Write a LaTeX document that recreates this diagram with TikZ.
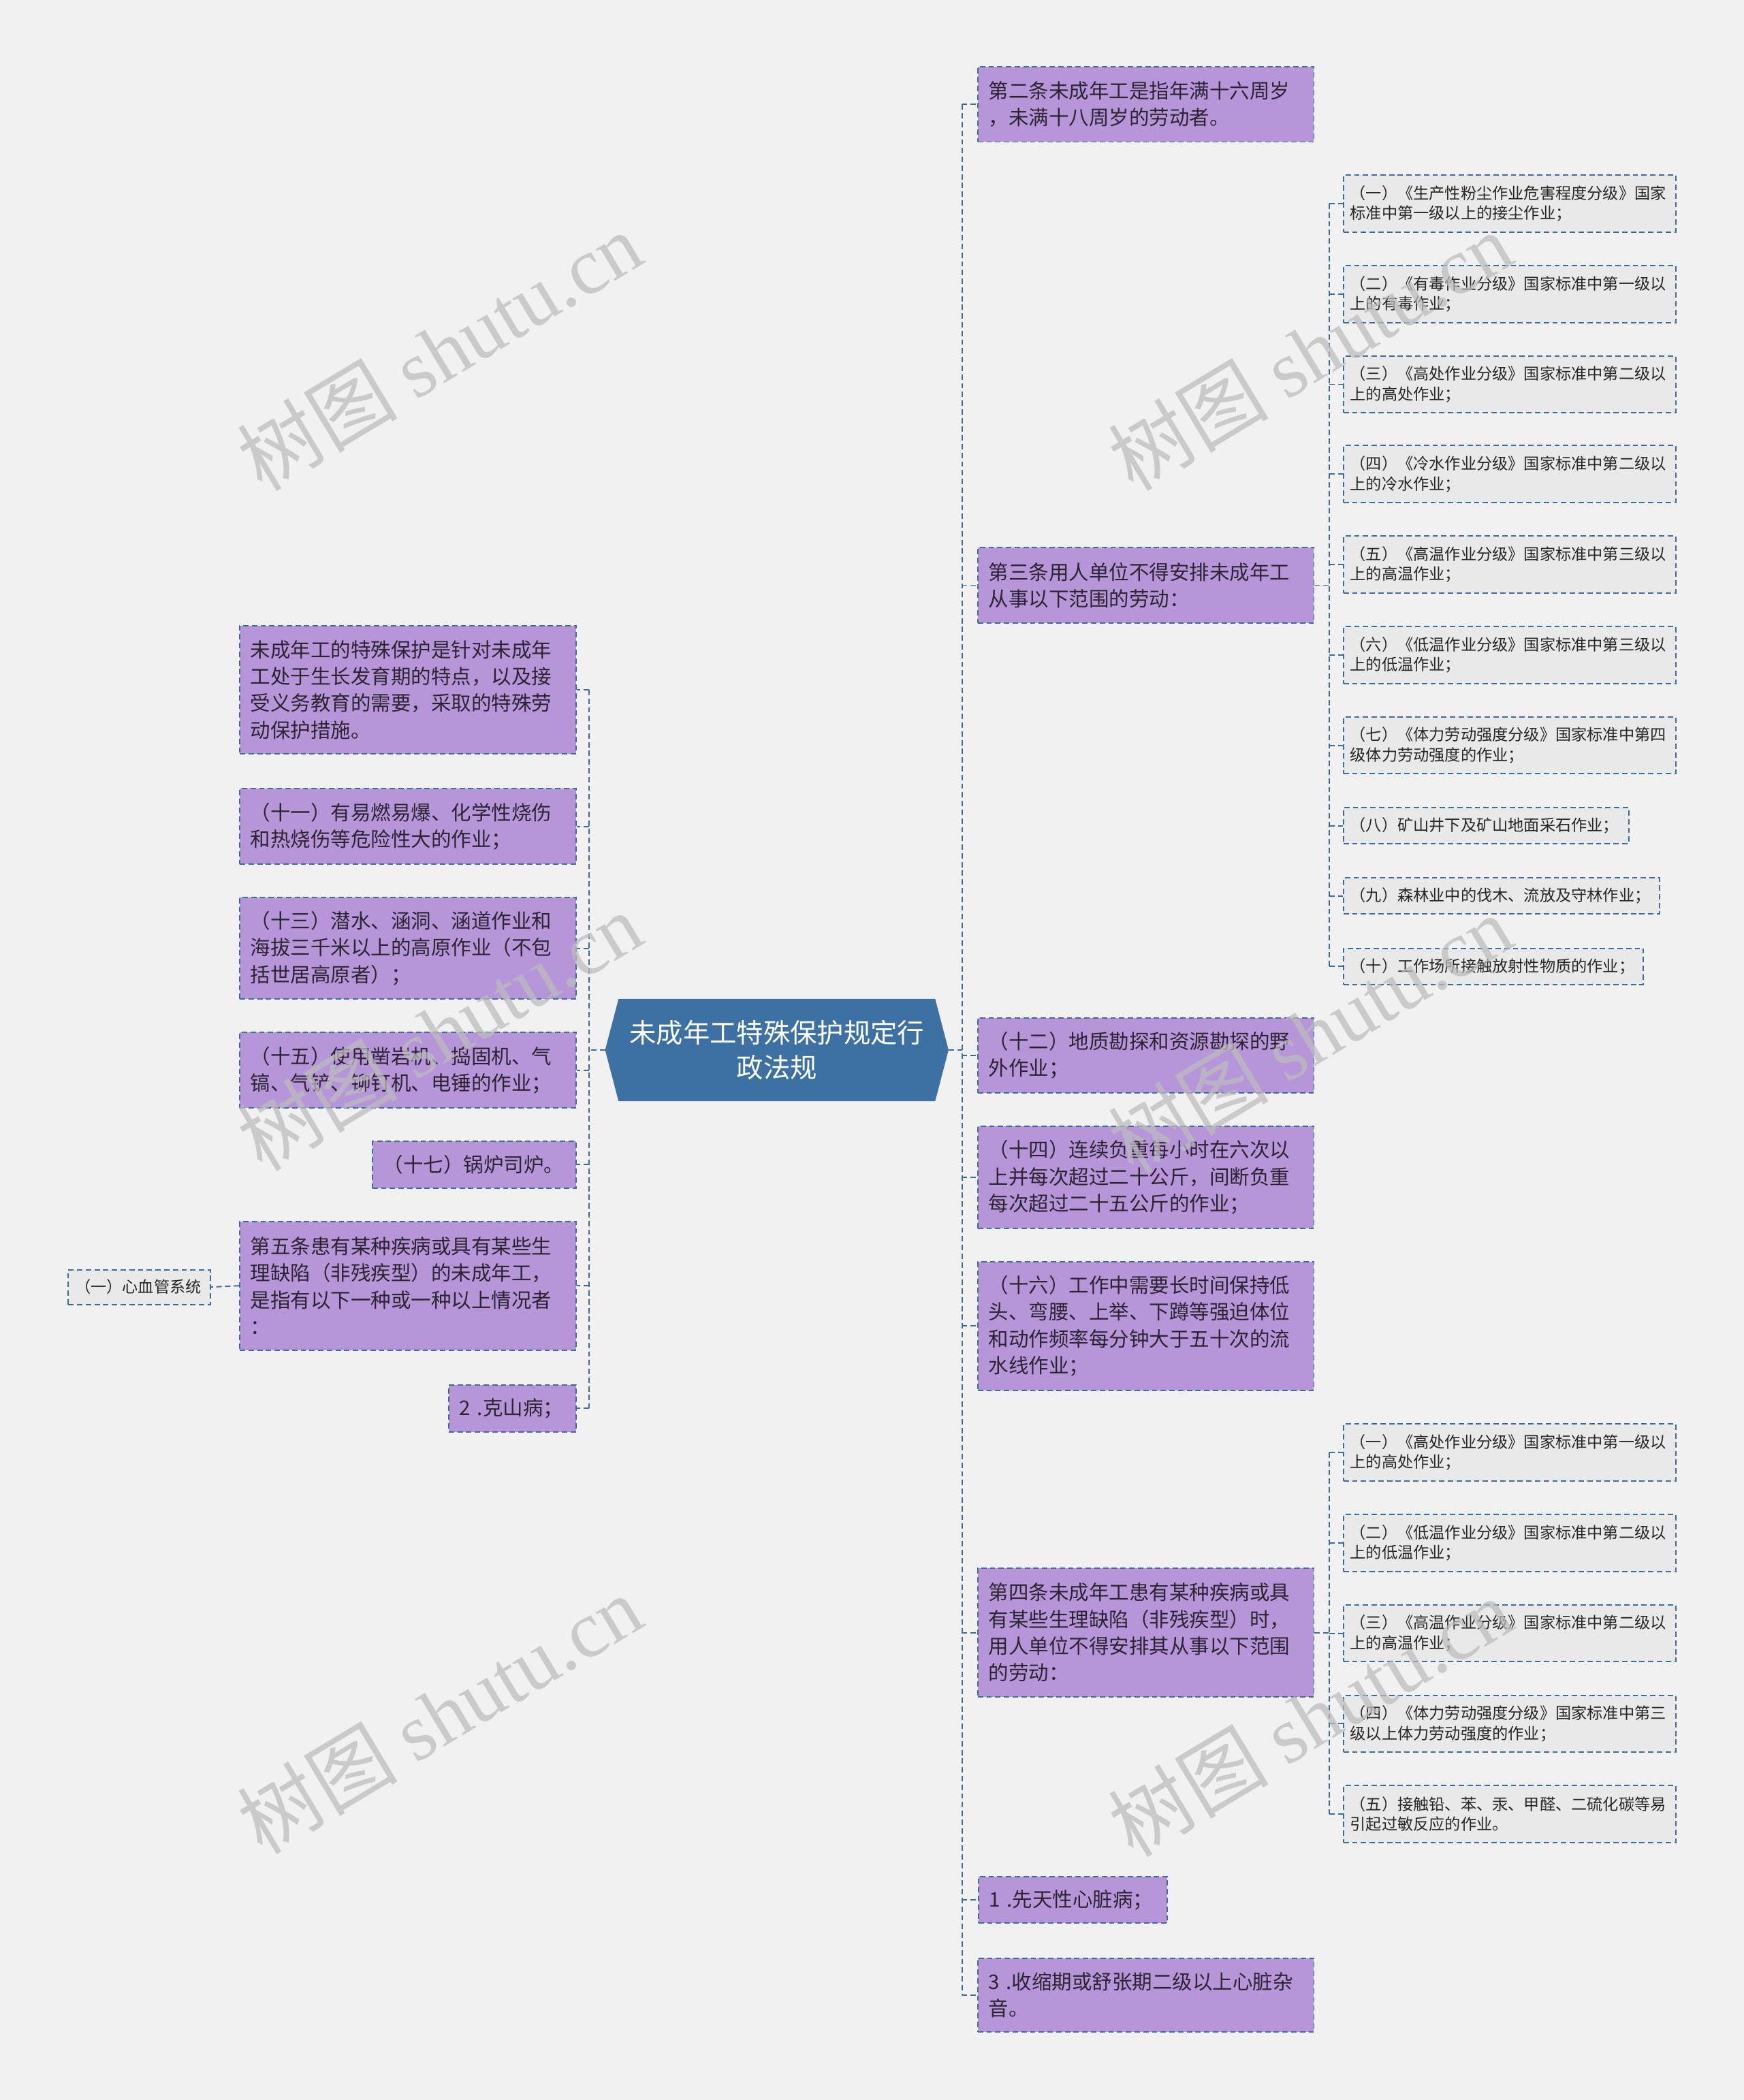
\documentclass[tikz,border=0pt]{standalone}
\usepackage{fontspec}
\setmainfont{Noto Sans CJK SC}
\newfontfamily\wmserif{Liberation Serif}
\usetikzlibrary{calc}
\definecolor{bgc}{RGB}{241,241,241}
\definecolor{pfill}{RGB}{182,150,217}
\definecolor{lblue}{RGB}{59,108,156}
\definecolor{cfill}{RGB}{62,113,163}
\definecolor{gfill}{RGB}{233,233,233}
\definecolor{ptext}{RGB}{45,35,50}
\definecolor{wm}{RGB}{188,188,188}
\pgfdeclarelayer{bg}
\pgfdeclarelayer{mid}
\pgfsetlayers{bg,mid,main}
\begin{document}
\begin{tikzpicture}[x=1pt,y=-1pt,
  dl/.style={draw=lblue, line width=1pt, dash pattern=on 4pt off 2.5pt},
  pbox/.style={dl, fill=pfill, text=ptext, font=\fontsize{15}{20}\selectfont, align=left, inner xsep=8pt, inner ysep=0pt},
  gbox/.style={dl, fill=gfill, text=black!85, font=\fontsize{11.8}{15}\selectfont, align=left, inner xsep=5pt, inner ysep=0pt},
  conn/.style={draw=lblue, line width=1pt, dash pattern=on 4pt off 2.5pt},
  wmark/.style={text=wm, text opacity=.72, rotate=31, font=\fontsize{60}{60}\selectfont, inner sep=0pt}
]
\useasboundingbox (0,0) rectangle (1302,1568);
\begin{pgfonlayer}{bg}
\fill[bgc] (0,0) rectangle (1302,1568);
\end{pgfonlayer}

% centre
\node[text=white, font=\fontsize{20}{26}\selectfont, align=center, minimum width=256pt, minimum height=76pt, inner sep=0pt] (c) at (580,784) {未成年工特殊保护规定行\\政法规};
\begin{pgfonlayer}{mid}
\fill[cfill] (c.west) -- ([xshift=10pt]c.north west) -- ([xshift=-10pt]c.north east) -- (c.east) -- ([xshift=-10pt]c.south east) -- ([xshift=10pt]c.south west) -- cycle;
\end{pgfonlayer}

% right level 1
\node[pbox, text width=235pt, minimum height=56pt] (r1) at (855.5,78) {第二条未成年工是指年满十六周岁\\，未满十八周岁的劳动者。};
\node[pbox, text width=235pt, minimum height=56pt] (r2) at (855.5,437) {第三条用人单位不得安排未成年工\\从事以下范围的劳动：};
\node[pbox, text width=235pt, minimum height=56pt] (r3) at (855.5,788) {（十二）地质勘探和资源勘探的野\\外作业；};
\node[pbox, text width=235pt, minimum height=76pt] (r4) at (855.5,879) {（十四）连续负重每小时在六次以\\上并每次超过二十公斤，间断负重\\每次超过二十五公斤的作业；};
\node[pbox, text width=235pt, minimum height=96pt] (r5) at (855.5,990) {（十六）工作中需要长时间保持低\\头、弯腰、上举、下蹲等强迫体位\\和动作频率每分钟大于五十次的流\\水线作业；};
\node[pbox, text width=235pt, minimum height=96pt] (r6) at (855.5,1219) {第四条未成年工患有某种疾病或具\\有某些生理缺陷（非残疾型）时，\\用人单位不得安排其从事以下范围\\的劳动：};
\node[pbox, text width=125pt, minimum height=35pt] (r7) at (801,1418.5) {1 .先天性心脏病；};
\node[pbox, text width=235pt, minimum height=55pt] (r8) at (855.5,1489.5) {3 .收缩期或舒张期二级以上心脏杂\\音。};

% subs of r2
\node[gbox, text width=238pt, minimum height=42.5pt] (s1) at (1127,152) {（一）《生产性粉尘作业危害程度分级》国家\\标准中第一级以上的接尘作业；};
\node[gbox, text width=238pt, minimum height=42.5pt] (s2) at (1127,219.5) {（二）《有毒作业分级》国家标准中第一级以\\上的有毒作业；};
\node[gbox, text width=238pt, minimum height=42.5pt] (s3) at (1127,287) {（三）《高处作业分级》国家标准中第二级以\\上的高处作业；};
\node[gbox, text width=238pt, minimum height=42.5pt] (s4) at (1127,354) {（四）《冷水作业分级》国家标准中第二级以\\上的冷水作业；};
\node[gbox, text width=238pt, minimum height=42.5pt] (s5) at (1127,421.5) {（五）《高温作业分级》国家标准中第三级以\\上的高温作业；};
\node[gbox, text width=238pt, minimum height=42.5pt] (s6) at (1127,489) {（六）《低温作业分级》国家标准中第三级以\\上的低温作业；};
\node[gbox, text width=238pt, minimum height=42.5pt] (s7) at (1127,556.5) {（七）《体力劳动强度分级》国家标准中第四\\级体力劳动强度的作业；};
\node[gbox, text width=203pt, minimum height=27pt] (s8) at (1109.5,616.5) {（八）矿山井下及矿山地面采石作业；};
\node[gbox, text width=226pt, minimum height=27pt] (s9) at (1121,669) {（九）森林业中的伐木、流放及守林作业；};
\node[gbox, text width=214pt, minimum height=27pt] (s10) at (1115,721.5) {（十）工作场所接触放射性物质的作业；};

% subs of r6
\node[gbox, text width=238pt, minimum height=42.5pt] (u1) at (1127,1084.5) {（一）《高处作业分级》国家标准中第一级以\\上的高处作业；};
\node[gbox, text width=238pt, minimum height=42.5pt] (u2) at (1127,1152) {（二）《低温作业分级》国家标准中第二级以\\上的低温作业；};
\node[gbox, text width=238pt, minimum height=42.5pt] (u3) at (1127,1219.5) {（三）《高温作业分级》国家标准中第二级以\\上的高温作业；};
\node[gbox, text width=238pt, minimum height=42.5pt] (u4) at (1127,1287) {（四）《体力劳动强度分级》国家标准中第三\\级以上体力劳动强度的作业；};
\node[gbox, text width=238pt, minimum height=42.5pt] (u5) at (1127,1354.5) {（五）接触铅、苯、汞、甲醛、二硫化碳等易\\引起过敏反应的作业。};

% left level 1
\node[pbox, text width=235pt, minimum height=96pt] (l1) at (304.5,515) {未成年工的特殊保护是针对未成年\\工处于生长发育期的特点，以及接\\受义务教育的需要，采取的特殊劳\\动保护措施。};
\node[pbox, text width=235pt, minimum height=56pt] (l2) at (304.5,617) {（十一）有易燃易爆、化学性烧伤\\和热烧伤等危险性大的作业；};
\node[pbox, text width=235pt, minimum height=76pt] (l3) at (304.5,708) {（十三）潜水、涵洞、涵道作业和\\海拔三千米以上的高原作业（不包\\括世居高原者）；};
\node[pbox, text width=235pt, minimum height=56pt] (l4) at (304.5,799) {（十五）使用凿岩机、捣固机、气\\镐、气铲、铆钉机、电锤的作业；};
\node[pbox, text width=136pt, minimum height=35pt] (l5) at (354,869.5) {（十七）锅炉司炉。};
\node[pbox, text width=235pt, minimum height=96pt] (l6) at (304.5,960) {第五条患有某种疾病或具有某些生\\理缺陷（非残疾型）的未成年工，\\是指有以下一种或一种以上情况者\\：};
\node[pbox, text width=79pt, minimum height=35pt] (l7) at (382.5,1051.5) {2 .克山病；};
\node[gbox, text width=96pt, minimum height=26pt] (l6a) at (104,961) {（一）心血管系统};

% connectors right
\draw[conn] (c.east) -- ++(10,0) coordinate (tR);
\draw[conn] (tR |- r1.west) -- (tR |- r8.west);
\foreach \n in {r1,r2,r3,r4,r5,r6,r7,r8} \draw[conn] (tR |- \n.west) -- (\n.west);
\draw[conn] (r2.east) -- ++(11,0) coordinate (tS);
\draw[conn] (tS |- s1.west) -- (tS |- s10.west);
\foreach \n in {s1,s2,s3,s4,s5,s6,s7,s8,s9,s10} \draw[conn] (tS |- \n.west) -- (\n.west);
\draw[conn] (r6.east) -- ++(11,0) coordinate (tU);
\draw[conn] (tU |- u1.west) -- (tU |- u5.west);
\foreach \n in {u1,u2,u3,u4,u5} \draw[conn] (tU |- \n.west) -- (\n.west);
% connectors left
\draw[conn] (c.west) -- ++(-12,0) coordinate (tL);
\draw[conn] (tL |- l1.east) -- (tL |- l7.east);
\foreach \n in {l1,l2,l3,l4,l5,l6,l7} \draw[conn] (tL |- \n.east) -- (\n.east);
\draw[conn] (l6.west) -- (l6a.east);

% watermarks
\node[wmark] (w1) at (328,262) {树图 {\wmserif shutu.cn}};
\node[wmark] (w2) at (978,262) {树图 {\wmserif shutu.cn}};
\node[wmark] (w3) at (328,770) {树图 {\wmserif shutu.cn}};
\node[wmark] (w4) at (978,772) {树图 {\wmserif shutu.cn}};
\node[wmark] (w5) at (328,1280) {树图 {\wmserif shutu.cn}};
\node[wmark] (w6) at (978,1282) {树图 {\wmserif shutu.cn}};
\end{tikzpicture}
\end{document}
